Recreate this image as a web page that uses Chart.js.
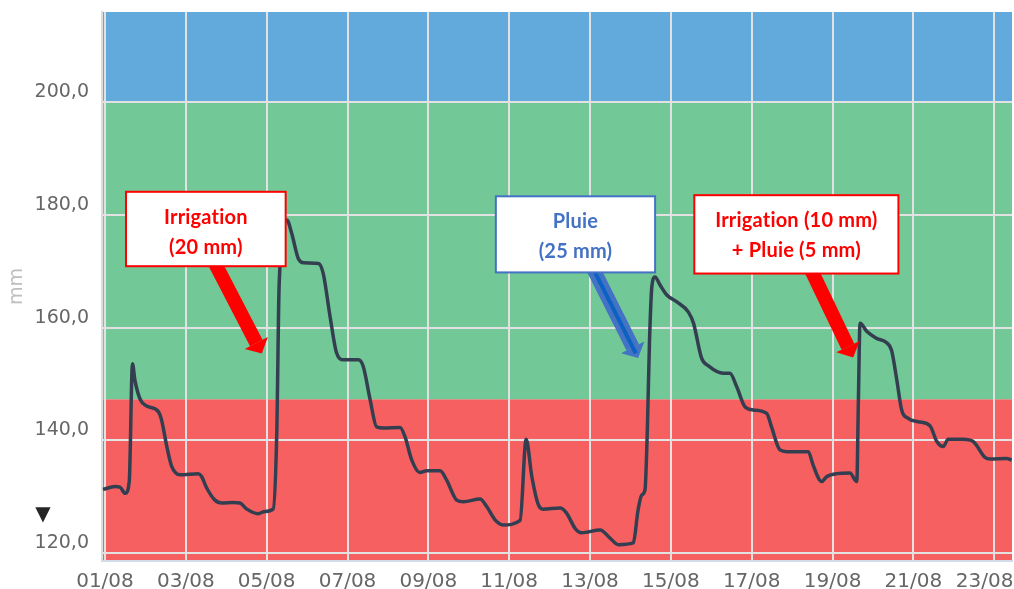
<!DOCTYPE html>
<html>
<head>
<meta charset="utf-8">
<script src="https://cdn.jsdelivr.net/npm/chart.js@4.4.1/dist/chart.umd.min.js"></script>
<style>
  html, body { margin: 0; padding: 0; background: #fff; }
</style>
</head>
<body>
<canvas id="chart" width="1014" height="589"></canvas>
<script>
// ------------------------------------------------------------
//  Données (réserve en eau, mm)
// ------------------------------------------------------------
const days = [
  0.95, 1.25, 1.37, 1.50, 1.60, 1.68, 1.74, 1.87, 2.03, 2.32,
  2.40, 2.53, 2.65, 2.86, 3.31, 3.39, 3.52, 3.72, 3.89, 4.17,
  4.34, 4.51, 4.79, 4.96, 5.16, 5.25, 5.31, 5.50, 5.62, 5.78,
  5.91, 6.28, 6.40, 6.57, 6.73, 6.90, 7.27, 7.39, 7.56, 7.72,
  7.89, 8.30, 8.42, 8.59, 8.79, 8.96, 9.29, 9.45, 9.70, 9.87,
  10.28, 10.44, 10.65, 10.85, 11.27, 11.42, 11.56, 11.72, 11.84, 12.26,
  12.42, 12.63, 12.79, 13.25, 13.49, 13.70, 14.07, 14.19, 14.28, 14.36,
  14.42, 14.47, 14.53, 14.61, 14.73, 14.90, 15.14, 15.43, 15.56, 15.76,
  15.93, 16.30, 16.46, 16.63, 16.83, 17.04, 17.37, 17.49, 17.70, 17.87,
  18.40, 18.52, 18.73, 18.86, 19.10, 19.43, 19.60, 19.64, 19.68, 19.85,
  20.09, 20.34, 20.46, 20.59, 20.71, 20.87, 21.12, 21.41, 21.58, 21.74,
  21.86, 22.23, 22.48, 22.77, 22.90, 23.31, 23.43
]

const levels = [
  131.3, 131.8, 131.7, 130.6, 132.7, 153.6, 150.7, 147.3, 146.1, 145.1,
  143.6, 138.9, 135.4, 133.9, 134.1, 133.6, 131.5, 129.4, 128.9, 129.0,
  128.9, 127.8, 127.0, 127.4, 127.8, 141.3, 167.9, 179.1, 176.7, 172.3,
  171.5, 171.4, 169.6, 161.9, 155.5, 154.3, 154.3, 153.1, 147.2, 142.4,
  142.2, 142.3, 140.7, 136.5, 134.3, 134.6, 134.6, 133.0, 129.4, 129.1,
  129.6, 128.3, 125.9, 125.0, 125.8, 140.2, 133.6, 128.6, 127.8, 128.0,
  127.1, 124.4, 123.6, 124.1, 122.7, 121.5, 121.8, 127.7, 130.3, 131.2,
  142.4, 157.2, 167.3, 169.0, 167.6, 165.8, 164.6, 162.8, 160.8, 154.6,
  153.2, 151.9, 151.9, 149.5, 146.0, 145.4, 144.8, 142.4, 138.3, 138.0,
  138.0, 135.6, 132.7, 133.6, 134.1, 134.2, 132.7, 147.2, 160.8, 159.3,
  158.1, 157.3, 156.0, 150.7, 145.4, 143.9, 143.3, 142.6, 139.8, 138.9,
  140.2, 140.2, 139.8, 137.0, 136.7, 136.8, 136.5
]

const xTickDays   = [1, 3, 5, 7, 9, 11, 13, 15, 17, 19, 21, 23]
const xTickLabels = ['01/08', '03/08', '05/08', '07/08', '09/08', '11/08',
                     '13/08', '15/08', '17/08', '19/08', '21/08', '23/08   ']
const yTickValues = [120, 140, 160, 180, 200]
const yTickLabels = ['120,0', '140,0', '160,0', '180,0', '200,0']

// zones : rouge (stress) / vert (confort) / bleu (excès)
const bandLimits = [147.3, 200]
const bandColors = ['#F66060', '#72C897', '#62A9DC']

// repère ▼ dans la marge de l'axe
const markerLevel = 126.8

// ------------------------------------------------------------
//  Annotations (en coordonnées du graphique)
// ------------------------------------------------------------
const noteLines     = [['Irrigation', '(20 mm)'], ['Pluie', '(25 mm)'], ['Irrigation (10 mm)', '+ Pluie (5 mm)']]
const noteColors    = ['#FF0000', '#4472C4', '#FF0000']
const noteBoxDays   = [[1.52, 5.47], [10.67, 14.61], [15.58, 20.63]]
const noteBoxLevels = [[184.1, 170.9], [183.3, 169.8], [183.5, 169.6]]
const arrowFrom     = [[3.68, 172.0], [13.04, 171.0], [18.42, 171.0]]
const arrowTo       = [[4.88, 155.4], [14.19, 154.6], [19.51, 154.7]]

// ------------------------------------------------------------
//  Plugins
// ------------------------------------------------------------
const bandsPlugin = {
  id: 'bands',
  beforeDraw(chart) {
    const { ctx, chartArea: a, scales: { y } } = chart
    const edges = [y.min, ...bandLimits, y.max]
    ctx.save()
    bandColors.forEach((c, i) => {
      const top = y.getPixelForValue(edges[i + 1])
      const bot = y.getPixelForValue(edges[i])
      ctx.fillStyle = c
      ctx.fillRect(a.left, top, a.right - a.left, bot - top)
    })
    ctx.restore()
  }
}

function drawArrow(ctx, x0, y0, x1, y1, w, color) {
  const ang = Math.atan2(y1 - y0, x1 - x0)
  const headLen = 12, headHalf = 13
  const bx = x1 - Math.cos(ang) * headLen
  const by = y1 - Math.sin(ang) * headLen
  ctx.strokeStyle = color
  ctx.lineWidth = w
  ctx.lineCap = 'butt'
  ctx.beginPath()
  ctx.moveTo(x0, y0)
  ctx.lineTo(bx, by)
  ctx.stroke()
  ctx.fillStyle = color
  ctx.beginPath()
  ctx.moveTo(x1, y1)
  ctx.lineTo(bx + Math.sin(ang) * headHalf, by - Math.cos(ang) * headHalf)
  ctx.lineTo(bx - Math.sin(ang) * headHalf, by + Math.cos(ang) * headHalf)
  ctx.closePath()
  ctx.fill()
}

const notesPlugin = {
  id: 'notes',
  afterDatasetsDraw(chart) {
    const { ctx, scales: { x, y } } = chart
    ctx.save()
    noteLines.forEach((lines, i) => {
      const color = noteColors[i]
      // flèche
      const x0 = x.getPixelForValue(arrowFrom[i][0]), y0 = y.getPixelForValue(arrowFrom[i][1])
      const x1 = x.getPixelForValue(arrowTo[i][0]),   y1 = y.getPixelForValue(arrowTo[i][1])
      drawArrow(ctx, x0, y0, x1, y1, 14, color)
      if (i === 1) {
        ctx.strokeStyle = '#0B62C2'
        ctx.lineWidth = 4
        ctx.beginPath()
        ctx.moveTo(x0, y0)
        ctx.lineTo(x1 - (x1 - x0) * 0.05, y1 - (y1 - y0) * 0.05)
        ctx.stroke()
      }
      // cadre
      const left  = x.getPixelForValue(noteBoxDays[i][0])
      const right = x.getPixelForValue(noteBoxDays[i][1])
      const top   = y.getPixelForValue(noteBoxLevels[i][0])
      const bot   = y.getPixelForValue(noteBoxLevels[i][1])
      ctx.fillStyle = '#fff'
      ctx.fillRect(left, top, right - left, bot - top)
      ctx.strokeStyle = color
      ctx.lineWidth = 2
      ctx.strokeRect(left, top, right - left, bot - top)
      // texte (sans ligatures)
      ctx.fillStyle = color
      ctx.font = 'bold 20px Lato'
      ctx.letterSpacing = '0.2px'
      ctx.textAlign = 'center'
      ctx.textBaseline = 'alphabetic'
      lines.forEach((t, k) => ctx.fillText(t, (left + right) / 2, top + 32 + k * 30))
      ctx.letterSpacing = '0px'
    })
    ctx.restore()
  },
  afterDraw(chart) {
    const { ctx, scales: { y } } = chart
    ctx.save()
    ctx.fillStyle = '#262626'
    ctx.font = '20px "DejaVu Sans"'
    ctx.textAlign = 'center'
    ctx.textBaseline = 'middle'
    ctx.fillText('▼', y.left + 43, y.getPixelForValue(markerLevel))
    ctx.restore()
  }
}

// ------------------------------------------------------------
//  Graphique
// ------------------------------------------------------------
new Chart(document.getElementById('chart'), {
  type: 'line',
  data: {
    datasets: [{
      data:            days.map((d, i) => ({ x: d, y: levels[i] })),
      borderColor:     '#333F50',
      borderWidth:     3.5,
      pointRadius:     0,
      fill:            false,
      cubicInterpolationMode: 'monotone',
    }]
  },
  plugins: [bandsPlugin, notesPlugin],
  options: {
    responsive: false,
    animation:  false,
    layout: { padding: { top: 12, right: 2, left: 0, bottom: 0 } },
    plugins: {
      legend:  { display: false },
      tooltip: { enabled: false },
    },
    scales: {
      x: {
        type: 'linear',
        min:  0.926,
        max:  23.44,
        afterBuildTicks: s => { s.ticks = xTickDays.map(v => ({ value: v })) },
        afterFit: s => { s.height = 28; s.paddingLeft = 0; s.paddingRight = 0 },
        ticks: {
          callback: (v, i) => xTickLabels[i],
          color: '#666',
          font: { family: 'DejaVu Sans', size: 20 },
          maxRotation: 0,
          autoSkip: false,
          padding: 9,
        },
        grid:   { color: '#e2e2e2', lineWidth: 2, drawTicks: false },
        border: { color: '#d3dae8', width: 2 },
      },
      y: {
        min: 118.6,
        max: 216,
        afterBuildTicks: s => { s.ticks = yTickValues.map(v => ({ value: v })) },
        afterFit: s => { s.width = 102; s.paddingTop = 0; s.paddingBottom = 0 },
        ticks: {
          callback: (v, i) => yTickLabels[i],
          color: '#666',
          font: { family: 'DejaVu Sans', size: 19 },
          padding: 13,
          labelOffset: -10,
        },
        grid:   { color: '#e2e2e2', lineWidth: 2, drawTicks: false },
        border: { color: '#dcdcdc', width: 2 },
        title: {
          display: true,
          text:    'mm',
          color:   '#bfbfbf',
          font:    { family: 'DejaVu Sans', size: 19 },
          padding: { top: 6 },
        },
      }
    }
  }
})
</script>
</body>
</html>
